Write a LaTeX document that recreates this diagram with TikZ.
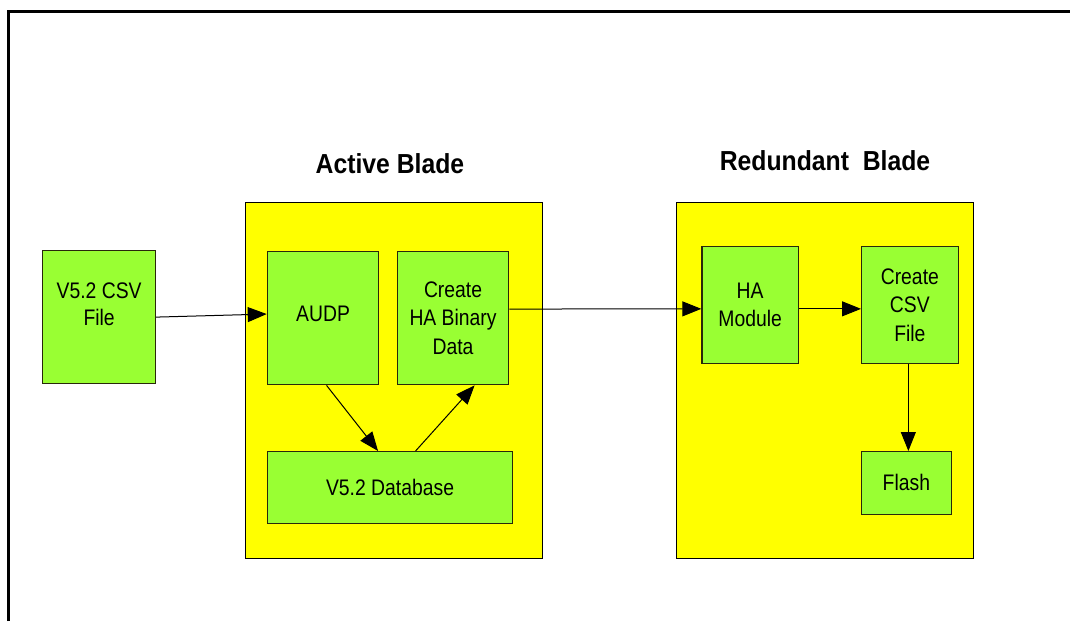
\documentclass[tikz,border=0pt]{standalone}
\usepackage{fontspec}
\newfontfamily\narrowsans{Liberation Sans}[FakeStretch=0.9]
\newfontfamily\boxsans{Liberation Sans}[FakeStretch=0.86]
\usetikzlibrary{arrows.meta}
\definecolor{bladeyellow}{RGB}{255,255,0}
\definecolor{boxgreen}{RGB}{153,255,51}
\definecolor{boxedge}{RGB}{40,40,10}
\begin{document}
\begin{tikzpicture}[x=1pt,y=-1pt,
  blade/.style={draw=black,line width=1pt,fill=bladeyellow,inner sep=0pt,anchor=north west},
  proc/.style={draw=boxedge,line width=1.2pt,fill=boxgreen,inner sep=0pt,anchor=north west,
    align=center,font=\boxsans\fontsize{22.5}{28.5}\selectfont},
  title/.style={font=\narrowsans\bfseries\fontsize{27.5}{30}\selectfont,anchor=base,inner sep=0pt},
  conn/.style={draw=black,line width=1pt,-{Triangle[length=19pt,width=15pt]}}]
\useasboundingbox (0,0) rectangle (1070,621);
\fill[white] (0,0) rectangle (1070,621);
\coordinate (fbl) at (8.5,621);
\coordinate (ftl) at (8.5,11);
\coordinate (ftr) at (1070,11);
\draw[line width=3pt] (fbl) -- (ftl) -- (ftr);
% blades
\node[blade,minimum width=297pt,minimum height=356pt] (active) at (244.5,201.5) {};
\node[blade,minimum width=296.5pt,minimum height=356pt] (redund) at (676,201.5) {};
\node[title] (activet) at (390,173) {Active Blade};
\node[title] (redundt) at (825,170) {Redundant\ \ Blade};
% boxes
\node[proc,minimum width=113pt,minimum height=133pt,
  label={[align=center,font=\boxsans\fontsize{22.5}{26.5}\selectfont,yshift=13pt]center:V5.2 CSV\\File}] (csv) at (42,250) {};
\node[proc,minimum width=111.5pt,minimum height=133.5pt,
  label={[font=\boxsans\fontsize{22.5}{28.5}\selectfont,yshift=4pt]center:AUDP}] (audp) at (266.7,250.7) {};
\node[proc,minimum width=111.5pt,minimum height=133.5pt] (cha) at (396.7,250.7) {Create\\HA Binary\\Data};
\node[proc,minimum width=245.5pt,minimum height=71.5pt] (db) at (266.7,451) {V5.2 Database};
\node[proc,minimum width=96.5pt,minimum height=116.5pt] (ham) at (701.3,246) {HA\\Module};
\node[proc,minimum width=96.5pt,minimum height=116.5pt] (ccsv) at (861,246) {Create\\CSV\\File};
\node[proc,minimum width=89.5pt,minimum height=62.5pt] (flash) at (861,451) {Flash};
% connectors
\draw[conn] (csv.east) -- ([yshift=4pt]audp.west);
\draw[conn] ([xshift=3.5pt]audp.south) -- ([xshift=-12pt]db.north);
\draw[conn] ([xshift=25.5pt]db.north) -- ([xshift=21.5pt]cha.south);
\draw[conn] ([yshift=9pt]cha.east) -- ([yshift=-4pt]ham.west);
\draw[conn] ([yshift=-4pt]ham.east) -- ([yshift=-4pt]ccsv.west);
\draw[conn] ([xshift=-1.5pt]ccsv.south) -- ([xshift=2pt]flash.north);
\end{tikzpicture}
\end{document}
